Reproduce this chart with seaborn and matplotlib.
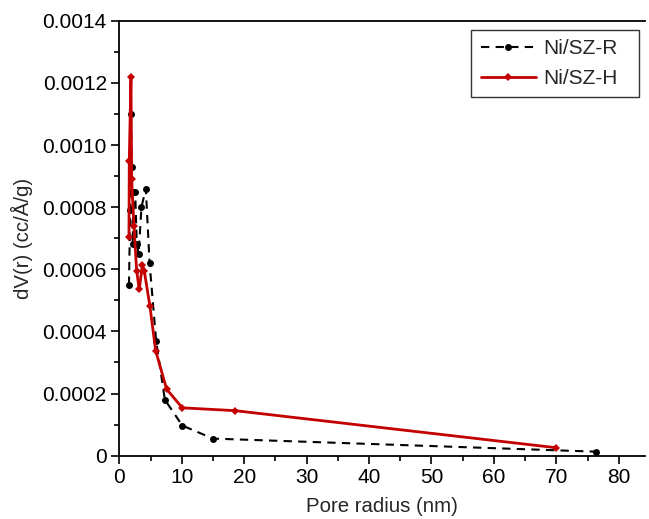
import matplotlib
matplotlib.use("Agg")
import matplotlib.pyplot as plt
import seaborn as sns
import pandas as pd
from matplotlib.ticker import MultipleLocator, FuncFormatter

# Data
r_radius = [1.55, 1.75, 1.87, 2.0, 2.15, 2.3, 2.55, 2.8, 3.1, 3.55, 4.25, 4.85, 5.9, 7.3, 10.1, 15.0, 76.3]
r_dv = [0.00055, 0.00079, 0.00110, 0.00093, 0.00068, 0.00085, 0.00085, 0.00068, 0.00065,
        0.00080, 0.00086, 0.00062, 0.00037, 0.00018, 0.000097, 0.000055, 0.000013]

h_radius = [1.55, 1.6, 1.87, 1.98, 2.35, 2.78, 3.2, 3.7, 4.0, 4.9, 5.83, 7.58, 10.1, 18.5, 69.9]
h_dv = [0.000705, 0.00095, 0.00122, 0.00089, 0.00074, 0.000595, 0.000535, 0.000614, 0.000595,
        0.000482, 0.000338, 0.000214, 0.000154, 0.000145, 0.0000258]

x_ticks = [0, 10, 20, 30, 40, 50, 60, 70, 80]
y_ticks = [0, 0.0002, 0.0004, 0.0006, 0.0008, 0.0010, 0.0012, 0.0014]

sns.set_style("ticks")
plt.rcParams['font.family'] = ['Liberation Sans', 'DejaVu Sans']

fig = plt.figure(figsize=(6.49, 5.19), dpi=100)
ax = fig.add_axes([0.1838, 0.122, 0.810, 0.838])

df_r = pd.DataFrame({"x": r_radius, "y": r_dv})
df_h = pd.DataFrame({"x": h_radius, "y": h_dv})

sns.lineplot(data=df_r, x="x", y="y", ax=ax, color="black", linestyle=(0, (4, 3)),
             linewidth=1.5, marker="o", markersize=5, markeredgewidth=0,
             label="Ni/SZ-R", sort=False)
sns.lineplot(data=df_h, x="x", y="y", ax=ax, color="#c40000", linestyle="-",
             linewidth=2.0, marker="D", markersize=4.5, markeredgewidth=0,
             label="Ni/SZ-H", sort=False)

ax.set_xlim(0, 84.2)
ax.set_ylim(0, 0.0014)
ax.set_xticks(x_ticks)
ax.set_yticks(y_ticks)
ax.xaxis.set_minor_locator(MultipleLocator(5))
ax.yaxis.set_minor_locator(MultipleLocator(0.0001))
ax.yaxis.set_major_formatter(FuncFormatter(lambda v, p: "0" if abs(v) < 1e-12 else f"{v:.4f}"))

ax.tick_params(axis="both", which="major", direction="out", length=6, width=1.2,
               labelsize=15, color="black", labelcolor="black", pad=3)
ax.tick_params(axis="both", which="minor", direction="out", length=3.5, width=1.2, color="black")
ax.tick_params(top=False, right=False, which="both")

for s in ["left", "bottom", "top"]:
    ax.spines[s].set_visible(True)
    ax.spines[s].set_linewidth(1.3)
    ax.spines[s].set_color("black")
ax.spines["right"].set_visible(False)

ax.set_xlabel("Pore radius (nm)", fontsize=14.7, labelpad=7)
ax.set_ylabel("dV(r) (cc/Å/g)", fontsize=14.7, labelpad=6.5)

leg = ax.legend(loc="upper left", bbox_to_anchor=(0.67, 0.9786, 0.3186, 0.0), mode="expand",
                fontsize=15, frameon=True, fancybox=False, edgecolor="black",
                handlelength=2.65, borderpad=0.45, borderaxespad=0.0,
                labelspacing=0.5, handletextpad=0.35)
leg.get_frame().set_linewidth(1.0)

fig.savefig("out.png", dpi=100)
